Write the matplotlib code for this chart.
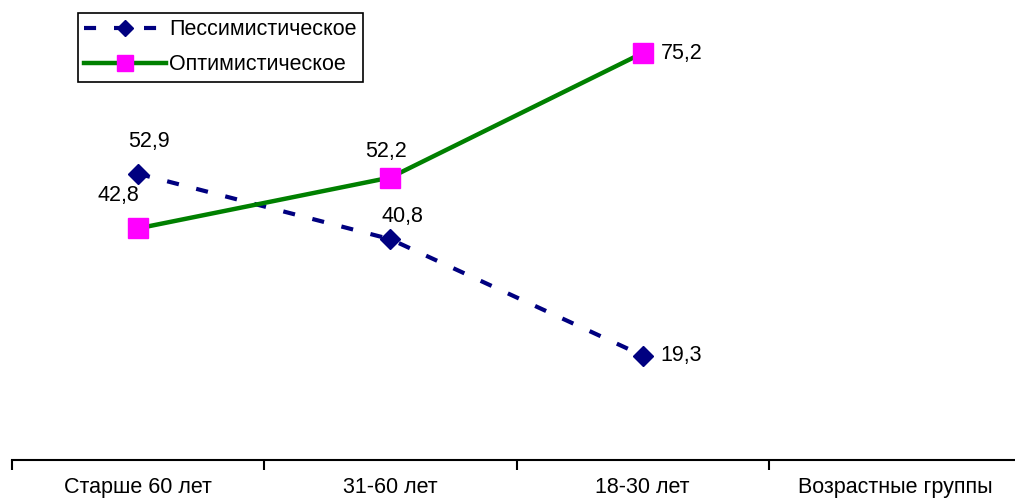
import matplotlib.pyplot as plt

plt.rcParams['font.family'] = ['Liberation Sans', 'DejaVu Sans']

# данные
categories = ['Старше 60 лет', '31-60 лет', '18-30 лет', 'Возрастные группы']
pessim = [52.9, 40.8, 19.3]
optim = [42.8, 52.2, 75.2]
# смещения подписей (в точках) для каждой точки
pessim_off = [(8, 23), (9, 16), (13, 0)]
optim_off = [(-14, 24), (-3, 19), (13, 0)]

fig = plt.figure(figsize=(10.15, 4.99), dpi=100)
W, H = 1015, 499
ax = fig.add_axes([12 / W, 39 / H, 1009 / W, 460 / H])

x = range(len(pessim))
ax.plot(x, pessim, color='#000080', linewidth=3, dashes=(2.9, 4.3),
        dash_capstyle='butt', marker='D', markersize=10.5,
        markerfacecolor='#000080', markeredgecolor='#000080',
        label='Пессимистическое')
ax.plot(x, optim, color='#008000', linewidth=3.2, marker='s', markersize=14.5,
        markerfacecolor='#FF00FF', markeredgecolor='#FF00FF',
        label='Оптимистическое')

def fmt(v):
    return f'{v:.1f}'.replace('.', ',')

# подписи значений
for vals, offs in [(pessim, pessim_off), (optim, optim_off)]:
    for i, v in enumerate(vals):
        dx, dy = offs[i]
        ha = 'left' if dy == 0 else 'center'
        ax.annotate(fmt(v), (i, v), xytext=(dx, dy), textcoords='offset points',
                    ha=ha, va='center', fontsize=15.5)

ax.set_xlim(-0.5, len(categories) - 0.5)
ax.set_ylim(0, 85)
# засечки между категориями, подписи по центру
ax.set_xticks([i + 0.5 for i in range(-1, len(categories) - 1)])
ax.set_xticklabels([])
ax.set_xticks(range(len(categories)), minor=True)
ax.set_xticklabels(categories, minor=True, fontsize=15.5)
ax.tick_params(axis='x', which='major', length=7, width=1.5, direction='out')
ax.tick_params(axis='x', which='minor', length=0, pad=12.5)
ax.set_yticks([])
for s in ['top', 'right', 'left']:
    ax.spines[s].set_visible(False)
ax.spines['bottom'].set_linewidth(1.5)

leg = ax.legend(loc='upper left', bbox_to_anchor=(78 / W, 1 - 13 / H),
                bbox_transform=fig.transFigure, fontsize=15.5, frameon=True,
                fancybox=False, edgecolor='black', framealpha=1,
                handlelength=3.8, handletextpad=0.15, borderpad=0.3,
                labelspacing=0.65, borderaxespad=0, markerscale=0.8)
leg.get_frame().set_linewidth(1.2)

fig.savefig('out.png', dpi=100)
